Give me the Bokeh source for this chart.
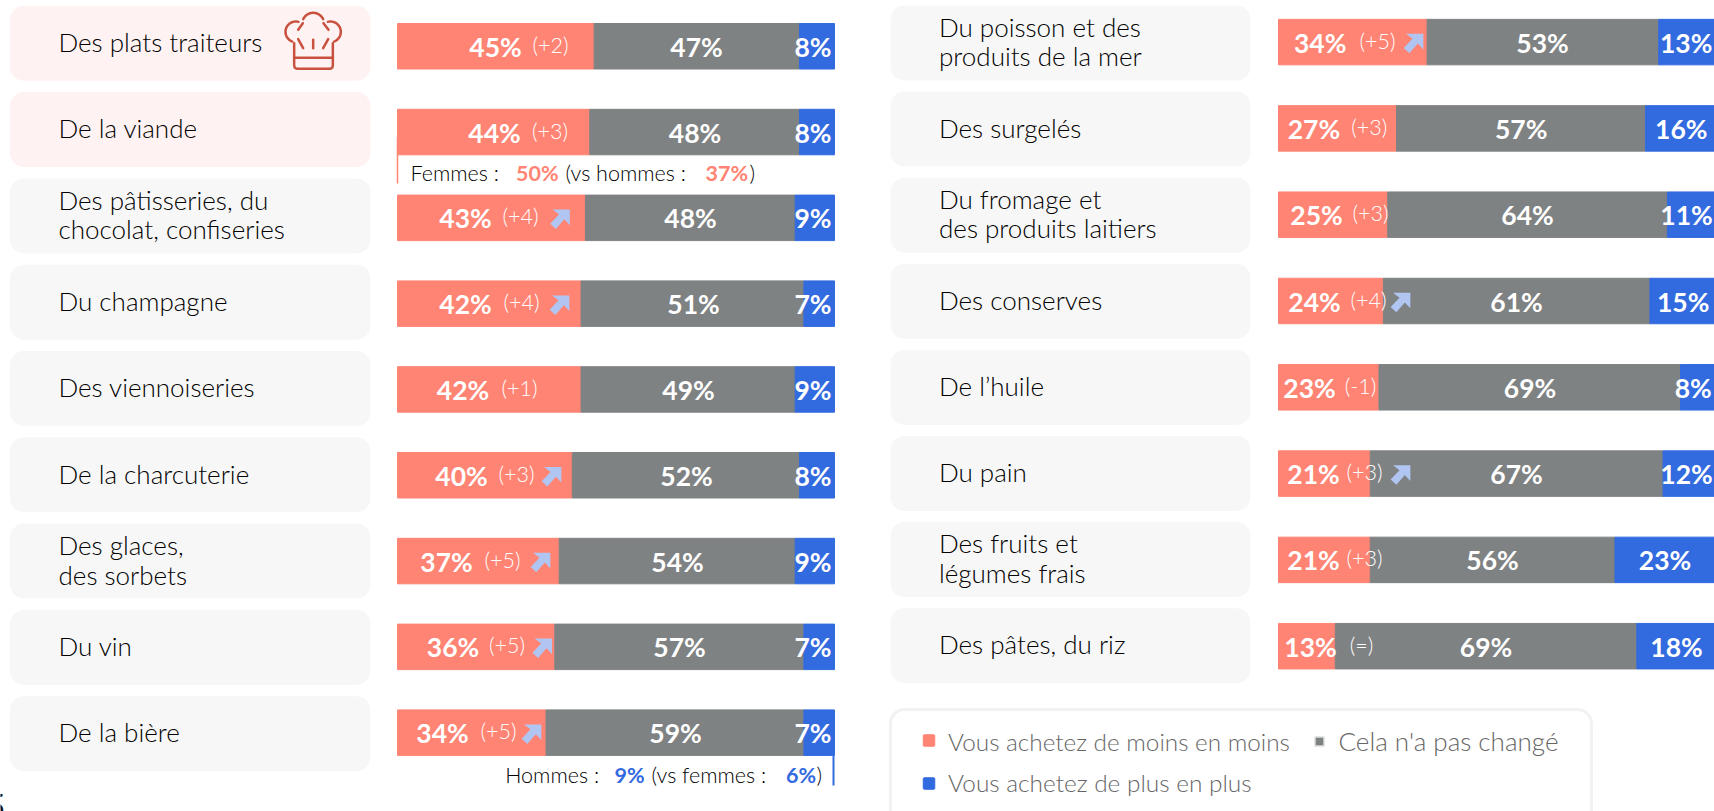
import numpy as np
from bokeh.core.properties import value
from bokeh.embed import file_html
from bokeh.models import Range1d
from bokeh.plotting import figure
from bokeh.resources import INLINE

# ---------- data ----------
left_categories = ["Des plats traiteurs", "De la viande", "Des pâtisseries, du\nchocolat, confiseries",
                   "Du champagne", "Des viennoiseries", "De la charcuterie",
                   "Des glaces,\ndes sorbets", "Du vin", "De la bière"]
left_less = [45, 44, 43, 42, 42, 40, 37, 36, 34]
left_same = [47, 48, 48, 51, 49, 52, 54, 57, 59]
left_more = [8, 8, 9, 7, 9, 8, 9, 7, 7]
left_delta = ["(+2)", "(+3)", "(+4)", "(+4)", "(+1)", "(+3)", "(+5)", "(+5)", "(+5)"]
left_trend = [False, False, True, True, False, True, True, True, True]

right_categories = ["Du poisson et des\nproduits de la mer", "Des surgelés", "Du fromage et\ndes produits laitiers",
                    "Des conserves", "De l’huile", "Du pain", "Des fruits et\nlégumes frais", "Des pâtes, du riz"]
right_less = [34, 27, 25, 24, 23, 21, 21, 13]
right_same = [53, 57, 64, 61, 69, 67, 56, 69]
right_more = [13, 16, 11, 15, 8, 12, 23, 18]
right_delta = ["(+5)", "(+3)", "(+3)", "(+4)", "(-1)", "(+3)", "(+3)", "(=)"]
right_trend = [True, False, False, True, False, True, False, False]

legend_labels = ["Vous achetez de moins en moins", "Cela n'a pas changé", "Vous achetez de plus en plus"]

# ---------- styles and layout (page pixels) ----------
W, H = 1714, 811
RED, GREY, BLUE = "#FF8474", "#7F8283", "#326ADF"
ARROW = "#B0C5F2"
CARD, CARD_HI = "#F7F7F7", "#FFF2F2"
HAT = "#C9513F"
LABEL = value("Lato Light")
BOLD = value("Lato")
LBL_SIZE = "26px"
VAL_SIZE = "26.5px"
DLT_SIZE = "21.5px"

L_BAR_X0, R_BAR_X0, BAR_W = 397.0, 1278.0, 437.0
L_Y0, L_DY = 45.75, 85.8
R_Y0, R_DY = 41.6, 86.3
BAR_H = 45.5

l_val_x = [495, 494, 465, 465, 462.5, 461, 446, 452.5, 442]
l_dlt_x = [550, 549.5, 520, 521, 519, 516, 502, 506.5, 498]
l_arr_x = [0, 0, 559.5, 559, 0, 551, 540, 541.7, 531]
l_mid_x = [696, 694.5, 690, 693, 688, 686, 677, 679, 675]

r_val_x = [1319.7, 1313.4, 1316, 1314, 1309, 1313, 1313, 1310]
r_dlt_x = [1377, 1368.7, 1370, 1368, 1360, 1364, 1364, 1361]
r_arr_x = [1413, 0, 0, 1400, 0, 1400, 0, 0]
r_mid_x = [1542, 1520.7, 1527, 1516, 1529.5, 1516, 1492, 1485.5]
r_end_x = [1685.7, 1680.8, 1686, 1682.7, 1692.7, 1686, 1664.5, 1676]

p = figure(width=W, height=H, x_range=Range1d(0, W), y_range=Range1d(H, 0),
           x_axis_type=None, y_axis_type=None, toolbar_location=None,
           output_backend="svg", min_border=0, outline_line_color=None, margin=0)
p.grid.visible = False
p.background_fill_color = "white"

# percent scales and row scales for both panels
p.extra_x_ranges = {
    "lpct": Range1d(-L_BAR_X0 / BAR_W * 100, (W - L_BAR_X0) / BAR_W * 100),
    "rpct": Range1d(-R_BAR_X0 / BAR_W * 100, (W - R_BAR_X0) / BAR_W * 100),
}
p.extra_y_ranges = {
    "lrow": Range1d((H - L_Y0) / L_DY, -L_Y0 / L_DY),
    "rrow": Range1d((H - R_Y0) / R_DY, -R_Y0 / R_DY),
}


def cards(x0, x1, tops, colors):
    p.rect(x=[(x0 + x1) / 2] * len(tops), y=[t + 37.5 for t in tops], width=x1 - x0, height=75,
           fill_color=colors, line_color=None, border_radius=14)


cards(9.5, 370, [5.3 + 86.3 * i for i in range(9)], [CARD_HI, CARD_HI] + [CARD] * 7)
cards(890, 1250, [5 + 86.1 * i for i in range(8)], [CARD] * 8)


def bars(less, same, more, xr, yr, row_dy):
    rows = list(range(len(less)))
    a = np.array(less, float)
    b = a + np.array(same, float)
    c = b + np.array(more, float)
    h = BAR_H / row_dy
    p.hbar(y=rows, left=0, right=a, height=h, color=RED, x_range_name=xr, y_range_name=yr)
    p.hbar(y=rows, left=a, right=b, height=h, color=GREY, x_range_name=xr, y_range_name=yr)
    p.hbar(y=rows, left=b, right=c, height=h, color=BLUE, x_range_name=xr, y_range_name=yr)


bars(left_less, left_same, left_more, "lpct", "lrow", L_DY)
bars(right_less, right_same, right_more, "rpct", "rrow", R_DY)


def txt(x, y, s, size, color="#000000", style="normal", align="center", alpha=1.0, font=LABEL, lh=1.0):
    p.text(x=x, y=y, text=s, text_font=font, text_font_size=size, text_color=color,
           text_font_style=style, text_align=align, text_baseline="middle", text_alpha=alpha,
           text_line_height=lh)


# category labels
txt([58] * 9, [41.5 + 86.3 * i for i in range(9)], left_categories, LBL_SIZE, align="left", lh=0.92)
txt([938.5] * 8, [41 + 86.1 * i for i in range(8)], right_categories, LBL_SIZE, align="left", lh=0.92)


def pct(vals):
    return [f"{v}%" for v in vals]


def arrows(xs, trend, yr, n):
    shape_x = np.array([0.12, 1, 1, 0.72, 0.29, 0, 0.45]) * 19.7 - 9.85
    shape_y = np.array([0, 0, 0.8, 0.5, 1, 0.73, 0.25]) * 19.5 - 9.75
    for i in range(n):
        if trend[i]:
            cy = ((L_Y0 + L_DY * i) if yr == "lrow" else (R_Y0 + R_DY * i)) + 1.5
            p.patch(xs[i] + shape_x, cy + shape_y, color=ARROW, line_color=None)


rows_l = list(range(9))
rows_r = list(range(8))
ly = [L_Y0 + L_DY * i + 0.5 for i in rows_l]
ry = [R_Y0 + R_DY * i + 0.5 for i in rows_r]
# value labels, left
txt(l_val_x, ly, pct(left_less), VAL_SIZE, "white", "bold", font=BOLD)
txt(l_mid_x, ly, pct(left_same), VAL_SIZE, "white", "bold", font=BOLD)
txt([831] * 9, ly, pct(left_more), VAL_SIZE, "white", "bold", align="right", font=BOLD)
txt(l_dlt_x, [y - 2 for y in ly], left_delta, DLT_SIZE, "white")
arrows(l_arr_x, left_trend, "lrow", 9)

# value labels, right
txt(r_val_x, ry, pct(right_less), VAL_SIZE, "white", "bold", font=BOLD)
txt(r_mid_x, ry, pct(right_same), VAL_SIZE, "white", "bold", font=BOLD)
txt(r_end_x, ry, pct(right_more), VAL_SIZE, "white", "bold", font=BOLD)
txt(r_dlt_x, [y - 2 for y in ry], right_delta, DLT_SIZE, "white")
arrows(r_arr_x, right_trend, "rrow", 8)

# gender call-outs
p.line([397, 397], [137, 183], line_color=RED, line_width=1.5)
p.line([833, 833], [755, 785], line_color=BLUE, line_width=2)
ANN = "21.5px"
txt([410], [172.5], ["Femmes :"], ANN, align="left")
txt([515.6], [172.5], ["50%"], ANN, RED, "bold", align="left", font=BOLD)
txt([565], [172.5], ["(vs hommes :"], ANN, align="left")
txt([705], [172.5], ["37%"], ANN, RED, "bold", align="left", font=BOLD)
txt([749], [172.5], [")"], ANN, align="left")
txt([504.7], [774], ["Hommes :"], ANN, align="left")
txt([614], [774], ["9%"], ANN, BLUE, "bold", align="left", font=BOLD)
txt([651], [774], ["(vs femmes :"], ANN, align="left")
txt([785.5], [774], ["6%"], ANN, BLUE, "bold", align="left", font=BOLD)
txt([816], [774], [")"], ANN, align="left")

# legend box
p.rect(x=[1240.5], y=[790], width=701, height=162, fill_color="white", line_color="#F2F2F2",
       line_width=3, border_radius=14)
p.rect(x=[928.5], y=[740], width=11.5, height=11.5, color=RED, border_radius=1)
p.rect(x=[1319], y=[741], width=9, height=9, fill_color=GREY, line_color="#DDDDDD", line_width=1.5)
p.rect(x=[928.5], y=[783], width=11.5, height=11.5, color=BLUE, border_radius=1)
txt([947.5], [740.5], [legend_labels[0]], "24.3px", "#666666", align="left")
txt([1338], [740.5], [legend_labels[1]], "26px", "#666666", align="left")
txt([947.5], [781.5], [legend_labels[2]], "24.4px", "#666666", align="left")


# chef's hat icon (drawn in the reference's zoom grid of 3 units per pixel)
def hat(xs, ys):
    p.line(260 + np.asarray(xs) / 3, np.asarray(ys) / 3, line_color=HAT, line_width=2.5, line_cap="round")


def arc(cx, cy, r, a0, a1):
    t = np.radians(np.linspace(a0, a1, 30))
    return cx + r * np.cos(t), cy - r * np.sin(t)


hat(*arc(106, 94, 31, 250, 75))
hat(*arc(158, 70, 33, 155, 25))
hat(*arc(210, 94, 31, 105, -70))
hat([101, 101, 103, 110, 208, 215, 217, 217], [128, 195, 202, 205, 205, 202, 195, 128])
hat([101, 217], [172, 172])
hat([113, 128], [116, 143])
hat([158, 158], [118, 143])
hat([203, 188], [116, 143])
hat([127, 113], [68, 88])
hat([189, 204], [68, 88])

# clipped page number at the lower left edge
txt([5], [806], ["5"], "34px", "#111111", align="right", font=BOLD)

open("out.html", "w").write(file_html(p, INLINE))
